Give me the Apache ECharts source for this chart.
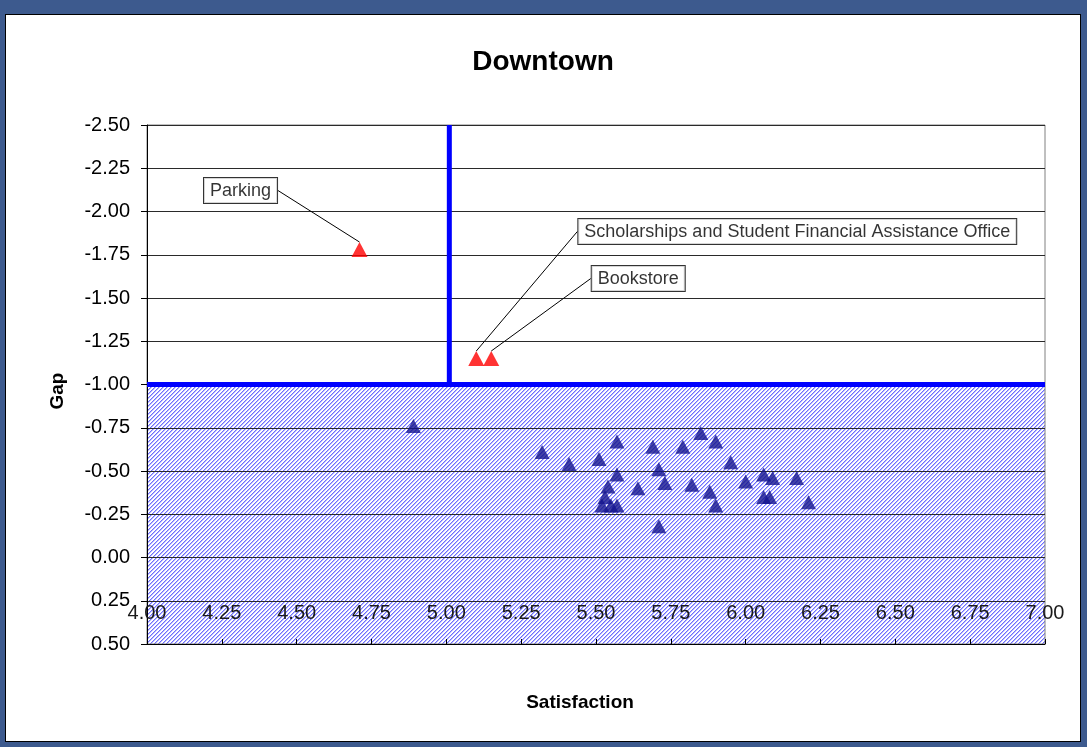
<!DOCTYPE html>
<html>
<head>
<meta charset="utf-8">
<script src="https://cdn.jsdelivr.net/npm/echarts@6/dist/echarts.min.js"></script>
<style>
  html, body { margin: 0; padding: 0; width: 1087px; height: 747px; overflow: hidden; background: #3d5a8e; }
  #frame { position: absolute; left: 5px; top: 14px; width: 1074px; height: 726px; border: 1px solid #000; background: #fff; }
  #chart { width: 1074px; height: 726px; }
</style>
</head>
<body>
<div id="frame"><div id="chart"></div></div>
<script>
// Downtown: satisfaction vs. gap per service
const chartTitle = 'Downtown';
const xTitle = 'Satisfaction';
const yTitle = 'Gap';

const xMin = 4.0, xMax = 7.0, xStep = 0.25;
const yMin = -2.5, yMax = 0.5, yStep = 0.25;

// Threshold lines
const gapThreshold = -1.0;
const satisfactionCut = 5.01;

// Services below the gap threshold (labelled)
const flaggedNames = ['Parking', 'Scholarships and Student Financial Assistance Office', 'Bookstore'];
const flaggedSatisfaction = [4.71, 5.10, 5.15];
const flaggedGap = [-1.78, -1.15, -1.15];

// All other services
const otherSatisfaction = [4.89, 5.32, 5.41, 5.51, 5.57, 5.57, 5.54, 5.53, 5.52, 5.55, 5.57, 5.64, 5.69, 5.71, 5.73,
                           5.71, 5.79, 5.85, 5.90, 5.82, 5.88, 5.90, 5.95, 6.00, 6.06, 6.09, 6.06, 6.08, 6.17, 6.21];
const otherGap = [-0.76, -0.61, -0.54, -0.57, -0.67, -0.48, -0.41, -0.35, -0.30, -0.30, -0.30, -0.40, -0.64, -0.51, -0.43,
                  -0.18, -0.64, -0.72, -0.67, -0.42, -0.38, -0.30, -0.55, -0.44, -0.48, -0.46, -0.35, -0.35, -0.46, -0.32];

// Callout placement relative to each flagged point (px)
const calloutOffset = [[-119, -59], [321, -127], [147, -80]];
const leaderStart = [[-67, -56], [86, -123], [88, -76]];

const FONT = '"Liberation Sans", Arial, sans-serif';

// fine "/" hatch used for the shaded zone
function makeHatch() {
  const c = document.createElement('canvas');
  c.width = 8; c.height = 8;
  const ctx = c.getContext('2d');
  const img = ctx.createImageData(8, 8);
  const tones = [[110, 110, 255], [185, 185, 255], [255, 255, 255], [255, 255, 255]];
  for (let y = 0; y < 8; y++) {
    for (let x = 0; x < 8; x++) {
      const i = (y * 8 + x) * 4;
      const t = tones[(x + y) % 4];
      img.data[i] = t[0];
      img.data[i + 1] = t[1];
      img.data[i + 2] = t[2];
      img.data[i + 3] = 255;
    }
  }
  ctx.putImageData(img, 0, 0);
  return c;
}
const hatch = makeHatch();

const chart = echarts.init(document.getElementById('chart'), null, { renderer: 'canvas' });

const option = {
  animation: false,
  title: {
    text: chartTitle,
    left: 'center',
    top: 28,
    textStyle: { fontFamily: FONT, fontSize: 28, fontWeight: 'bold', color: '#000' }
  },
  grid: {
    left: 141, top: 110, right: 35, bottom: 97,
    show: true, borderColor: '#808080', borderWidth: 1, backgroundColor: 'transparent',
    outerBoundsMode: 'none'
  },
  xAxis: {
    type: 'value',
    min: xMin, max: xMax, interval: xStep,
    name: xTitle,
    nameLocation: 'middle',
    nameGap: 49,
    nameTextStyle: { fontFamily: FONT, fontSize: 19, fontWeight: 'bold', color: '#000', padding: [0, 32, 0, 0] },
    axisLine: { show: true, onZero: false, lineStyle: { color: '#000', width: 1 } },
    axisTick: { show: true, inside: true, length: 5, lineStyle: { color: '#000' } },
    axisLabel: {
      show: true, margin: -41, showMinLabel: true, showMaxLabel: true, hideOverlap: false,
      fontFamily: FONT, fontSize: 20, color: '#1a1a1a',
      formatter: v => v.toFixed(2)
    },
    splitLine: { show: false }
  },
  yAxis: {
    type: 'value',
    inverse: true,
    min: yMin, max: yMax, interval: yStep,
    name: yTitle,
    nameLocation: 'middle',
    nameGap: 80,
    nameRotate: 90,
    nameTextStyle: { fontFamily: FONT, fontSize: 19, fontWeight: 'bold', color: '#000', padding: [0, 13, 0, 0] },
    axisLine: { show: true, onZero: false, lineStyle: { color: '#000', width: 1 } },
    axisTick: { show: true, inside: false, length: 6, lineStyle: { color: '#000' } },
    axisLabel: {
      margin: 17, showMinLabel: true, showMaxLabel: true,
      fontFamily: FONT, fontSize: 20, color: '#000',
      formatter: v => v.toFixed(2)
    },
    splitLine: { show: true, lineStyle: { color: '#2a2a2a', width: 1 } }
  },
  series: [
    {
      // shaded zone below the gap threshold
      type: 'custom',
      z: -1,
      silent: true,
      encode: { x: [0, 2], y: [1, 3] },
      data: [[xMin, gapThreshold, xMax, yMax]],
      renderItem(params, api) {
        const p1 = api.coord([api.value(0), api.value(1)]);
        const p2 = api.coord([api.value(2), api.value(3)]);
        return {
          type: 'rect',
          shape: {
            x: Math.min(p1[0], p2[0]), y: Math.min(p1[1], p2[1]),
            width: Math.abs(p2[0] - p1[0]), height: Math.abs(p2[1] - p1[1])
          },
          style: { fill: { image: hatch, repeat: 'repeat' } }
        };
      }
    },
    {
      type: 'line',
      silent: true,
      symbol: 'none',
      z: 3,
      data: [[xMin, gapThreshold], [xMax, gapThreshold]],
      lineStyle: { color: '#0000ff', width: 5 }
    },
    {
      type: 'line',
      silent: true,
      symbol: 'none',
      z: 3,
      data: [[satisfactionCut, yMin], [satisfactionCut, gapThreshold]],
      lineStyle: { color: '#0000ff', width: 5 }
    },
    {
      type: 'scatter',
      z: 4,
      symbol: 'triangle',
      symbolSize: [15, 14],
      itemStyle: { color: '#14148f' },
      data: otherSatisfaction.map((s, i) => [s, otherGap[i]])
    },
    {
      type: 'scatter',
      z: 5,
      symbol: 'triangle',
      symbolSize: [16, 15],
      itemStyle: { color: '#ff0000' },
      data: flaggedSatisfaction.map((s, i) => ({ name: flaggedNames[i], value: [s, flaggedGap[i]] })),
      label: {
        show: true,
        position: 'inside',
        formatter: '{b}',
        fontFamily: FONT,
        fontSize: 18,
        color: '#000',
        backgroundColor: '#fff',
        borderColor: '#000',
        borderWidth: 1,
        padding: [4, 6, 3, 6]
      },
      labelLine: { show: true, lineStyle: { color: '#000', width: 1 } },
      labelLayout(p) {
        const i = p.dataIndex;
        const cx = p.rect.x + p.rect.width / 2;
        const cy = p.rect.y + p.rect.height / 2;
        return {
          x: cx + calloutOffset[i][0],
          y: cy + calloutOffset[i][1],
          align: 'center',
          verticalAlign: 'middle',
          labelLinePoints: [[cx + leaderStart[i][0], cy + leaderStart[i][1]], [cx, p.rect.y]]
        };
      }
    }
  ]
};

chart.setOption(option);
</script>
</body>
</html>
